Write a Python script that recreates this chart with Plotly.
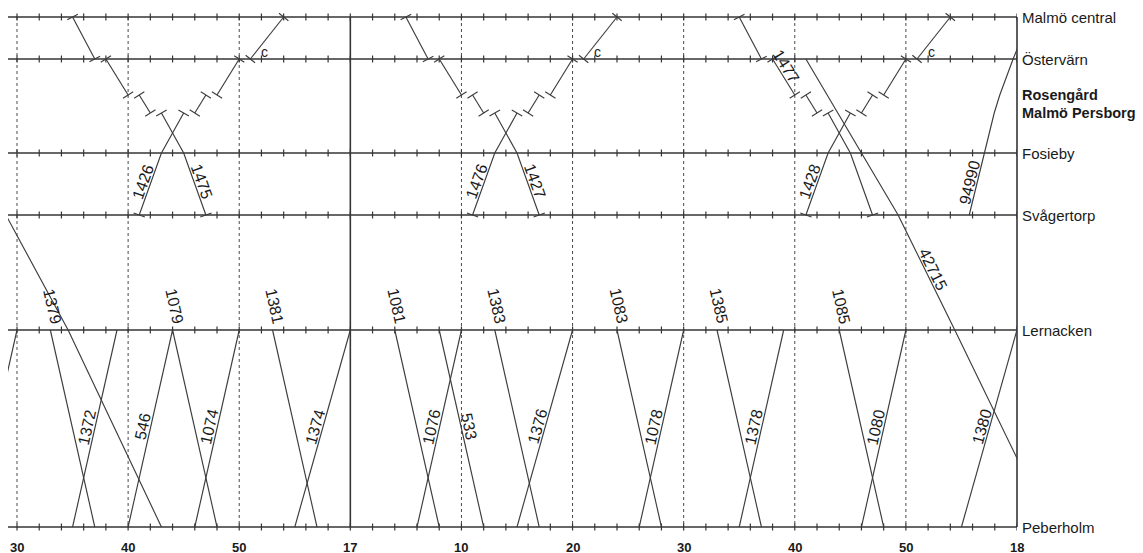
import math
import plotly.graph_objects as go

# ---------------- data ----------------
STATIONS = ["Malmö central", "Östervärn", "Rosengård", "Malmö Persborg",
            "Fosieby", "Svågertorp", "Lernacken", "Peberholm"]
STATION_KM = [0.0, 2.1, 3.9, 4.8, 6.8, 9.9, 15.65, 25.5]
STATION_BOLD = [False, False, True, True, False, False, False, False]
STATION_HAS_LINE = [True, True, False, False, True, True, True, True]

# time axis: minutes after 16:30
TICK_MIN = [0, 10, 20, 30, 40, 50, 60, 70, 80, 90]
TICK_TEXT = ["30", "40", "50", "17", "10", "20", "30", "40", "50", "18"]
HOUR_MIN = [30, 90]
MINOR_STEP = 2

# City tunnel trains (arrival / departure, minutes after 16:30)
T1475_STA = ["Malmö central", "Östervärn", "Rosengård", "Malmö Persborg", "Fosieby", "Svågertorp"]
T1475_ARR = [None, 7, 10, 12, 15, 17]
T1475_DEP = [5, 8, 11, 13, 15, None]

T1426_STA = ["Svågertorp", "Fosieby", "Malmö Persborg", "Rosengård", "Östervärn", "Malmö central"]
T1426_ARR = [None, 13, 15, 17, 20, 24]
T1426_DEP = [11, 13, 16, 18, 21, None]

T1427_STA = ["Malmö central", "Östervärn", "Rosengård", "Malmö Persborg", "Fosieby", "Svågertorp"]
T1427_ARR = [None, 37, 40, 42, 45, 47]
T1427_DEP = [35, 38, 41, 43, 45, None]

T1476_STA = ["Svågertorp", "Fosieby", "Malmö Persborg", "Rosengård", "Östervärn", "Malmö central"]
T1476_ARR = [None, 43, 45, 47, 50, 54]
T1476_DEP = [41, 43, 46, 48, 51, None]

T1477_STA = ["Malmö central", "Östervärn", "Rosengård", "Malmö Persborg", "Fosieby", "Svågertorp"]
T1477_ARR = [None, 67, 70, 72, 75, 77]
T1477_DEP = [65, 68, 71, 73, 75, None]

T1428_STA = ["Svågertorp", "Fosieby", "Malmö Persborg", "Rosengård", "Östervärn", "Malmö central"]
T1428_ARR = [None, 73, 75, 77, 80, 84]
T1428_DEP = [71, 73, 76, 78, 81, None]

# Through / freight trains (passing times)
FRT_A_STA = ["Svågertorp", "Lernacken", "Peberholm"]
FRT_A_T = [-1.0, 4.6, 13.0]

T42715_STA = ["Östervärn", "Fosieby", "Svågertorp", "Lernacken", "Peberholm"]
T42715_T = [71.0, 76.0, 79.3, 84.4, 93.0]

T94990_STA = ["Svågertorp", "Fosieby", "Malmö Persborg", "Rosengård", "Östervärn", "Malmö central"]
T94990_T = [85.7, 87.05, 87.95, 88.45, 89.65, 91.2]

# Lernacken -> Peberholm (southbound)
SB_IDS = ["1379", "1079", "1381", "1081", "533", "1383", "1083", "1385", "1085"]
SB_LERN_DEP = [3, 14, 23, 34, 38, 43, 54, 63, 74]
SB_PEB_ARR = [7, 18, 27, 38, 42, 47, 58, 67, 78]

# Peberholm -> Lernacken (northbound)
NB_IDS = ["", "1372", "546", "1074", "1374", "1076", "1376", "1078", "1378", "1080", "1380"]
NB_PEB_DEP = [-4, 5, 10, 16, 25, 36, 45, 56, 65, 76, 85]
NB_LERN_ARR = [0, 9, 14, 20, 30, 40, 50, 60, 69, 80, 90]

C_MARK_TRAINS = ["1426", "1476", "1428"]

# ---------------- layout constants ----------------
# (the html page body has an 8 px margin, so the figure sits 8 px right/down)
W, H = 1143, 553
M_L, M_R, M_T, M_B = 0, 134, 1, 26
X_RANGE = [-0.81, 90.0]
Y_RANGE = [25.9, -0.4]
PXM = (W - M_L - M_R) / (X_RANGE[1] - X_RANGE[0])
PXK = (H - M_T - M_B) / (Y_RANGE[0] - Y_RANGE[1])

INK = "#353535"
TXT = "#1a1a1a"
FONT = "Liberation Sans, Arial, Helvetica, sans-serif"
LABEL_FS = 16

KM = dict(zip(STATIONS, STATION_KM))


def make_train(tid, sta, arr, dep, stops):
    return dict(id=tid, sta=sta, arr=arr, dep=dep, stops=stops)


TRAINS = [
    make_train("1475", T1475_STA, T1475_ARR, T1475_DEP, True),
    make_train("1426", T1426_STA, T1426_ARR, T1426_DEP, True),
    make_train("1427", T1427_STA, T1427_ARR, T1427_DEP, True),
    make_train("1476", T1476_STA, T1476_ARR, T1476_DEP, True),
    make_train("1477", T1477_STA, T1477_ARR, T1477_DEP, True),
    make_train("1428", T1428_STA, T1428_ARR, T1428_DEP, True),
    make_train("", FRT_A_STA, FRT_A_T, FRT_A_T, False),
    make_train("42715", T42715_STA, T42715_T, T42715_T, False),
    make_train("94990", T94990_STA, T94990_T, T94990_T, False),
]
for i, tid in enumerate(SB_IDS):
    TRAINS.append(make_train(tid, ["Lernacken", "Peberholm"],
                             [None, SB_PEB_ARR[i]], [SB_LERN_DEP[i], None], False))
for i, tid in enumerate(NB_IDS):
    TRAINS.append(make_train(tid, ["Peberholm", "Lernacken"],
                             [None, NB_LERN_ARR[i]], [NB_PEB_DEP[i], None], False))

# label placement (style): (from station, to station, mode, fraction along segment)
LABEL_PLACE = {
    "1475": ("Fosieby", "Svågertorp", "mid", 0.5),
    "1426": ("Svågertorp", "Fosieby", "mid", 0.5),
    "1427": ("Fosieby", "Svågertorp", "mid", 0.5),
    "1476": ("Svågertorp", "Fosieby", "mid", 0.5),
    "1477": ("Östervärn", "Rosengård", "mid", 0.32),
    "1428": ("Svågertorp", "Fosieby", "mid", 0.5),
    "42715": ("Svågertorp", "Lernacken", "mid", 0.5),
    "94990": ("Svågertorp", "Fosieby", "mid", 0.5),
    "533": ("Lernacken", "Peberholm", "mid", 0.5),
}
for tid in SB_IDS:
    LABEL_PLACE.setdefault(tid, ("Lernacken", "Peberholm", "before", 0.0))
for tid in NB_IDS:
    if tid:
        LABEL_PLACE.setdefault(tid, ("Peberholm", "Lernacken", "mid", 0.5))


def runs_of(tr):
    out, cur = [], []
    for s, a, d in zip(tr["sta"], tr["arr"], tr["dep"]):
        k = KM[s]
        if a is not None:
            cur.append((a, k))
        if d is None:
            out.append(cur)
            cur = []
        elif a is None or d != a:
            if cur:
                out.append(cur)
            cur = [(d, k)]
    if cur:
        out.append(cur)
    return [r for r in out if len(r) >= 2]


def unit_px(p, q):
    dx = (q[0] - p[0]) * PXM
    dy = (q[1] - p[1]) * PXK
    n = math.hypot(dx, dy)
    return dx / n, dy / n


fig = go.Figure()

# vertical time lines
shapes = []
for t in TICK_MIN:
    solid = t in HOUR_MIN
    if t >= X_RANGE[1]:
        xr, xv = "paper", 1
    else:
        xr, xv = "x", t
    shapes.append(dict(type="line", xref=xr, yref="y", x0=xv, x1=xv,
                       y0=STATION_KM[0], y1=STATION_KM[-1], layer="below",
                       line=dict(color=INK if solid else "#4a4a4a",
                                 width=1.6 if solid else 1,
                                 dash="solid" if solid else "dot")))

# station lines
sx, sy = [], []
tx, ty = [], []
minor = list(range(0, int(X_RANGE[1]) + 1, MINOR_STEP))
for name, k, has in zip(STATIONS, STATION_KM, STATION_HAS_LINE):
    if not has:
        continue
    sx += [X_RANGE[0], X_RANGE[1], None]
    sy += [k, k, None]
    for m in minor:
        tx += [m, m, None]
        ty += [k - 3.5 / PXK, k + 3.5 / PXK, None]
fig.add_trace(go.Scatter(x=sx, y=sy, mode="lines", hoverinfo="skip",
                         line=dict(color=INK, width=1.7), showlegend=False))
fig.add_trace(go.Scatter(x=tx, y=ty, mode="lines", hoverinfo="skip",
                         line=dict(color=INK, width=1.2), showlegend=False))

# trains
annotations = []
stop_x, stop_y = [], []
HALF_TICK = 6.0
for tr in TRAINS:
    runs = runs_of(tr)
    xs, ys = [], []
    for r in runs:
        xs += [p[0] for p in r] + [None]
        ys += [p[1] for p in r] + [None]
        if tr["stops"]:
            for p, q in ((r[0], r[1]), (r[-1], r[-2])):
                ux, uy = unit_px(p, q)
                nx, ny = -uy, ux
                stop_x += [p[0] - nx * HALF_TICK / PXM, p[0] + nx * HALF_TICK / PXM, None]
                stop_y += [p[1] - ny * HALF_TICK / PXK, p[1] + ny * HALF_TICK / PXK, None]
    fig.add_trace(go.Scatter(x=xs, y=ys, mode="lines", hoverinfo="skip",
                             line=dict(color="#3c3c3c", width=1.15), showlegend=False))

    tid = tr["id"]
    if tid and tid in LABEL_PLACE:
        a, b, mode, frac = LABEL_PLACE[tid]
        seg = None
        for r in runs:
            for p, q in zip(r[:-1], r[1:]):
                if p[1] == KM[a] and q[1] == KM[b]:
                    seg = (p, q)
        if seg is None:
            continue
        p, q = seg
        ux, uy = unit_px(p, q)
        theta = math.degrees(math.atan2(uy, ux))
        upx, upy = math.sin(math.radians(theta)), -math.cos(math.radians(theta))
        d = 7.5
        if mode == "mid":
            ax = p[0] + (q[0] - p[0]) * frac
            ay = p[1] + (q[1] - p[1]) * frac
            sxp, syp = upx * d, upy * d
        else:
            ax, ay = p
            L = len(tid) * 0.556 * LABEL_FS
            back = L / 2 + 5
            sxp, syp = -ux * back + upx * d, -uy * back + upy * d
        annotations.append(dict(x=ax, y=ay, xref="x", yref="y", text=tid,
                                showarrow=False, textangle=theta,
                                xanchor="center", yanchor="middle",
                                xshift=sxp, yshift=-syp,
                                font=dict(family=FONT, size=LABEL_FS, color=TXT)))
    if tid in C_MARK_TRAINS:
        i = tr["sta"].index("Östervärn")
        annotations.append(dict(x=tr["dep"][i], y=KM["Östervärn"], xref="x", yref="y",
                                text="c", showarrow=False, xshift=14, yshift=7,
                                font=dict(family=FONT, size=14, color=TXT)))

fig.add_trace(go.Scatter(x=stop_x, y=stop_y, mode="lines", hoverinfo="skip",
                         line=dict(color="#3c3c3c", width=1.15), showlegend=False))

# station names
for name, k, bold in zip(STATIONS, STATION_KM, STATION_BOLD):
    annotations.append(dict(x=1, xref="paper", y=k, yref="y", xanchor="left",
                            yanchor="middle", xshift=3, showarrow=False,
                            text=f"<b>{name}</b>" if bold else name,
                            font=dict(family=FONT, size=15 if not bold else 14.5,
                                      color=TXT)))

# time tick labels
for t, s in zip(TICK_MIN, TICK_TEXT):
    annotations.append(dict(x=t, xref="x", y=STATION_KM[-1], yref="y",
                            yshift=-20, showarrow=False, text=f"<b>{s}</b>",
                            xanchor="center", yanchor="middle",
                            font=dict(family=FONT, size=13, color=TXT)))

fig.update_layout(
    width=W, height=H,
    margin=dict(l=M_L, r=M_R, t=M_T, b=M_B, pad=0),
    paper_bgcolor="white", plot_bgcolor="white",
    xaxis=dict(range=X_RANGE, visible=False, showgrid=False, zeroline=False,
               fixedrange=True),
    yaxis=dict(range=Y_RANGE, visible=False, showgrid=False, zeroline=False,
               fixedrange=True),
    shapes=shapes, annotations=annotations, showlegend=False,
)

fig.write_html("out.html", config=dict(displayModeBar=False))
